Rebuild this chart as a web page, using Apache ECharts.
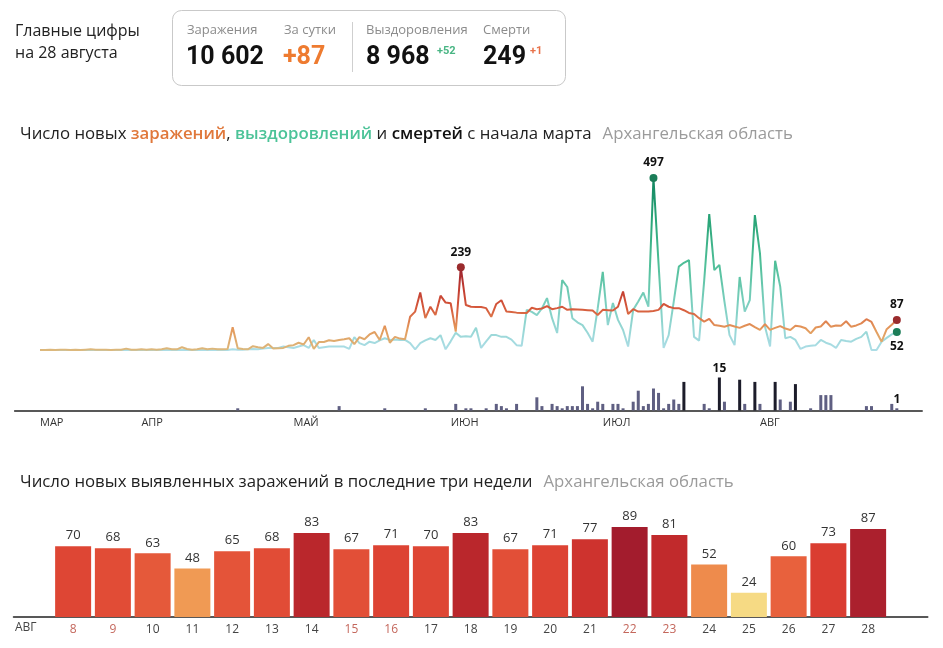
<!DOCTYPE html>
<html><head><meta charset="utf-8">
<script src="https://cdn.jsdelivr.net/npm/echarts/dist/echarts.min.js"></script>
<style>html,body{margin:0;padding:0;background:#fff}#c{width:943px;height:648px}</style>
</head><body><div id="c"></div>
<script>
// ---------- DATA ----------
const firstDate = '2020-03-12';   // first day of the daily series
const padBefore = 5, padAfter = 5; // empty axis days on each side
const monthNames = ['ЯНВ','ФЕВ','МАР','АПР','МАЙ','ИЮН','ИЮЛ','АВГ','СЕН','ОКТ','НОЯ','ДЕК'];

const infections = [
0,0,1,0,1,1,0,1,0,1,
2,1,1,1,0,1,1,4,1,1,
2,1,2,1,2,5,2,2,8,3,
1,2,5,2,4,2,2,3,66,5,
3,2,11,8,6,17,4,5,6,12,
14,21,16,37,3,23,23,28,26,29,
31,34,17,37,31,45,52,29,70,21,
38,33,31,96,111,166,92,125,101,157,
137,135,53,239,130,125,124,124,121,96,
133,144,111,110,108,107,107,122,118,120,
127,118,121,125,116,118,117,116,115,114,
101,116,115,114,125,169,104,118,111,111,
111,113,116,133,125,121,121,115,107,104,
92,82,90,72,70,67,72,68,64,70,
75,66,58,75,58,64,69,62,58,
70,68,63,48,65,68,83,67,71,70,83,67,71,77,89,81,52,24,60,73,87
];
const recoveries = [
0,0,0,0,0,0,0,0,0,0,
0,0,0,0,0,0,0,0,0,0,
0,0,0,0,0,0,0,0,0,0,
0,0,0,0,0,1,0,0,2,1,
1,2,3,2,4,6,6,6,10,8,
6,10,14,6,29,6,8,10,10,10,
10,3,37,20,14,24,20,28,34,29,
30,29,29,20,2,20,28,34,29,43,
2,25,50,38,40,38,64,6,25,43,
43,38,38,30,14,12,116,110,101,120,
150,92,49,202,182,92,80,72,50,24,
120,226,72,136,87,58,10,116,140,166,
125,497,250,6,43,140,241,252,260,38,
27,200,393,231,246,140,43,14,211,111,
144,390,280,67,10,258,183,34,38,29,
3,10,12,14,29,21,16,6,29,26,
24,32,38,53,0,0,24,35,45,52
];
const deaths = [
0,0,0,0,0,0,0,0,0,0,
0,0,0,0,0,0,0,0,0,0,
0,0,0,0,0,0,0,0,0,0,
0,0,0,0,0,0,0,0,0,1,
0,0,0,0,0,0,0,0,0,0,
0,0,0,0,0,0,0,0,0,2,
0,0,0,0,0,0,0,0,1,0,
0,0,0,0,0,0,1,0,0,0,
0,0,3,0,1,1,0,0,1,0,
3,2,1,0,3,0,0,0,6,2,
0,3,2,1,2,2,2,11,3,1,
4,3,0,3,3,1,0,4,9,2,
3,10,8,1,3,5,3,13,0,0,
0,3,1,0,15,4,0,0,14,3,
0,13,3,0,0,13,5,0,4,12,
0,0,1,0,7,7,7,0,0,0,
0,0,0,2,2,0,0,0,3,1
];

const lastMonthLabel = 'АВГ';
const lastDays   = ['8','9','10','11','12','13','14','15','16','17','18','19','20','21','22','23','24','25','26','27','28'];
const lastValues = [70,68,63,48,65,68,83,67,71,70,83,67,71,77,89,81,52,24,60,73,87];
const weekendDays = ['8','9','15','16','22','23'];

const headDate = 'на 28 августа';
const totalCases = '10 602', dayCases = '+87';
const totalRecovered = '8 968', dayRecovered = '+52';
const totalDeaths = '249', dayDeaths = '+1';

// ---------- BUILD ----------
const FONT = "'Open Sans', 'Noto Sans', sans-serif";
const NUMFONT = "Roboto, 'Open Sans', sans-serif";
const STEP = 5.07;
const X0 = 40;
const nDays = infections.length;
const nCat = padBefore + nDays + padAfter;
const cats = [];
const t0 = Date.parse(firstDate + 'T00:00:00Z') - padBefore * 86400000;
for (let i = 0; i < nCat; i++) cats.push(new Date(t0 + i * 86400000).toISOString().slice(0, 10));
const gridLeft = X0 - padBefore * STEP;
const gridWidth = (nCat - 1) * STEP;

const padded = arr => Array(padBefore).fill('-').concat(arr, Array(padAfter).fill('-'));
const argMax = arr => arr.reduce((b, v, i) => v > arr[b] ? i : b, 0);
const last = arr => arr.length - 1;

const iMaxInf = argMax(infections), iMaxRec = argMax(recoveries), iMaxDea = argMax(deaths);

const deathData = padded(deaths).map((v, i) => {
  const k = i - padBefore;
  if (v === '-') return v;
  const o = { value: v, itemStyle: { color: v >= 12 ? '#1c1c2a' : '#5f5f82' } };
  if (k === iMaxDea || k === last(deaths)) {
    o.label = { show: true, position: 'top', distance: 3, color: '#111', fontWeight: 'bold', fontSize: 12, fontFamily: FONT };
  }
  return o;
});

function lerpColor(a, b, t) {
  const pa = [1,3,5].map(j => parseInt(a.substr(j,2),16));
  const pb = [1,3,5].map(j => parseInt(b.substr(j,2),16));
  return 'rgb(' + pa.map((x, j) => Math.round(x + (pb[j]-x)*t)).join(',') + ')';
}
const barStops = [[24,'#f6da84'],[50,'#ef9550'],[60,'#e8613d'],[68,'#e14c36'],[74,'#d83a30'],[81,'#c12a2c'],[89,'#a31c2d']];
function barColor(v) {
  if (v <= barStops[0][0]) return barStops[0][1];
  for (let i = 1; i < barStops.length; i++) {
    if (v <= barStops[i][0]) {
      const [a, ca] = barStops[i-1], [b, cb] = barStops[i];
      return lerpColor(ca, cb, (v - a) / (b - a));
    }
  }
  return barStops[barStops.length-1][1];
}
const barCats = [''].concat(lastDays, ['']);
const barData = ['-'].concat(lastValues.map(v => ({ value: v, itemStyle: { color: barColor(v) } })), ['-']);
const BARW = 39.75;

const mpLabel = (pos) => ({ show: true, position: pos, distance: 5, color: '#111', fontWeight: 'bold', fontSize: 12, fontFamily: FONT, formatter: '{c}' });
const TS = 16.8;
const rn = (c) => ({ fontSize: TS, color: c, fontWeight: 'normal', fontFamily: FONT });
const rb = (c) => ({ fontSize: TS, color: c, fontWeight: 600, fontFamily: FONT });

const chart = echarts.init(document.getElementById('c'));
chart.setOption({
  animation: false,
  backgroundColor: '#fff',
  textStyle: { fontFamily: FONT },
  title: [
    {
      left: 15, top: 120,
      text: '{n|Число новых }{o|заражений}{n|, }{g|выздоровлений}{n| и }{b|смертей}{n| с начала марта}{s|}{r|Архангельская область}',
      textStyle: { fontWeight: 'normal', rich: {
        n: rn('#222'), o: rb('#e0783b'), g: rb('#4cc398'), b: rb('#111'),
        s: { width: 11 }, r: rn('#9b9b9b')
      } }
    },
    {
      left: 15, top: 468,
      text: '{n|Число новых выявленных заражений в последние три недели}{s|}{r|Архангельская область}',
      textStyle: { fontWeight: 'normal', rich: { n: rn('#222'), s: { width: 11 }, r: rn('#9b9b9b') } }
    }
  ],
  grid: [
    { left: gridLeft, width: gridWidth, top: 177, height: 173 },
    { left: gridLeft, width: gridWidth, top: 377.5, height: 33 },
    { left: 13.5, width: BARW * barCats.length, top: 515.9, height: 101.1 }
  ],
  xAxis: [
    { type: 'category', gridIndex: 0, data: cats, boundaryGap: false, show: false },
    { type: 'category', gridIndex: 1, data: cats, boundaryGap: false,
      axisLine: { lineStyle: { color: '#222', width: 1.5 } },
      axisTick: { show: false },
      axisLabel: {
        interval: (idx, val) => idx >= padBefore && idx < padBefore + nDays && (idx === padBefore || val.slice(8) === '01'),
        formatter: (val) => monthNames[parseInt(val.slice(5, 7), 10) - 1],
        align: 'left', margin: 7, fontSize: 11, color: '#333', fontFamily: FONT
      }
    },
    { type: 'category', gridIndex: 2, data: barCats,
      axisLine: { lineStyle: { color: '#222', width: 1.5 } },
      axisTick: { show: false },
      axisLabel: {
        interval: 0, margin: 7, fontSize: 12, fontFamily: FONT,
        color: (val) => weekendDays.indexOf(val) >= 0 ? '#c4675c' : '#444'
      }
    }
  ],
  yAxis: [
    { type: 'value', gridIndex: 0, min: 0, max: 500, show: false },
    { type: 'value', gridIndex: 1, min: 0, max: 15, show: false },
    { type: 'value', gridIndex: 2, min: 0, max: 100, show: false }
  ],
  visualMap: [
    { type: 'continuous', show: false, seriesIndex: 1, dimension: 1, min: 0, max: 240,
      inRange: { color: ['#dcb87c', '#e49a5c', '#d65a3c', '#c03a30', '#982230'] } },
    { type: 'continuous', show: false, seriesIndex: 0, dimension: 1, min: 0, max: 500,
      inRange: { color: ['#acdde6', '#7fd0c2', '#4fbf98', '#2aa578', '#138560'] } }
  ],
  series: [
    { name: 'Выздоровления', type: 'line', xAxisIndex: 0, yAxisIndex: 0, data: padded(recoveries),
      symbol: 'none', lineStyle: { width: 2 }, z: 3,
      markPoint: { symbol: 'circle', symbolSize: 8, itemStyle: { color: '#1b7d58' },
        data: [
          { coord: [cats[padBefore + iMaxRec], recoveries[iMaxRec]], value: recoveries[iMaxRec], label: mpLabel('top') },
          { coord: [cats[padBefore + last(recoveries)], recoveries[last(recoveries)]], value: recoveries[last(recoveries)], label: mpLabel('bottom') }
        ] } },
    { name: 'Заражения', type: 'line', xAxisIndex: 0, yAxisIndex: 0, data: padded(infections),
      symbol: 'none', lineStyle: { width: 2 }, z: 4,
      markPoint: { symbol: 'circle', symbolSize: 8, itemStyle: { color: '#9a2b2d' },
        data: [
          { coord: [cats[padBefore + iMaxInf], infections[iMaxInf]], value: infections[iMaxInf], label: mpLabel('top') },
          { coord: [cats[padBefore + last(infections)], infections[last(infections)]], value: infections[last(infections)], label: mpLabel('top') }
        ] } },
    { name: 'Смерти', type: 'bar', xAxisIndex: 1, yAxisIndex: 1, data: deathData, barWidth: 3 },
    { name: 'Новые заражения', type: 'bar', xAxisIndex: 2, yAxisIndex: 2, data: barData, barWidth: 36,
      label: { show: true, position: 'top', distance: 4, fontSize: 13, color: '#333', fontFamily: FONT } }
  ],
  graphic: [
    { type: 'text', left: 15, top: 23, style: { text: 'Главные цифры', fontSize: 16, fill: '#222', fontFamily: FONT } },
    { type: 'text', left: 15, top: 45, style: { text: headDate, fontSize: 16, fill: '#222', fontFamily: FONT } },
    { type: 'rect', shape: { x: 172.5, y: 10.5, width: 393, height: 75, r: 9 }, style: { fill: 'none', stroke: '#c9c9c9', lineWidth: 1 } },
    { type: 'line', shape: { x1: 352.5, y1: 22, x2: 352.5, y2: 72 }, style: { stroke: '#cfcfcf', lineWidth: 1 } },
    { type: 'text', left: 187, top: 24, style: { text: 'Заражения', fontSize: 13, fill: '#8c8c8c', fontFamily: FONT } },
    { type: 'text', left: 284, top: 24, style: { text: 'За сутки', fontSize: 13, fill: '#8c8c8c', fontFamily: FONT } },
    { type: 'text', left: 366, top: 24, style: { text: 'Выздоровления', fontSize: 13, fill: '#8c8c8c', fontFamily: FONT } },
    { type: 'text', left: 483, top: 24, style: { text: 'Смерти', fontSize: 13, fill: '#8c8c8c', fontFamily: FONT } },
    { type: 'text', left: 186, top: 45, style: { text: totalCases, fontSize: 25, fontWeight: 'bold', fill: '#111', fontFamily: NUMFONT } },
    { type: 'text', left: 283, top: 45, style: { text: dayCases, fontSize: 25, fontWeight: 'bold', fill: '#ee7b30', fontFamily: NUMFONT } },
    { type: 'text', left: 366, top: 45, style: { text: totalRecovered, fontSize: 25, fontWeight: 'bold', fill: '#111', fontFamily: NUMFONT } },
    { type: 'text', left: 437, top: 46, style: { text: dayRecovered, fontSize: 11, fontWeight: 'bold', fill: '#48b583', fontFamily: NUMFONT } },
    { type: 'text', left: 483, top: 45, style: { text: totalDeaths, fontSize: 25, fontWeight: 'bold', fill: '#111', fontFamily: NUMFONT } },
    { type: 'text', left: 530, top: 46, style: { text: dayDeaths, fontSize: 11, fontWeight: 'bold', fill: '#e8724a', fontFamily: NUMFONT } },
    { type: 'text', left: 15, top: 622, style: { text: lastMonthLabel, fontSize: 12, fill: '#444', fontFamily: FONT } }
  ]
});
</script></body></html>
